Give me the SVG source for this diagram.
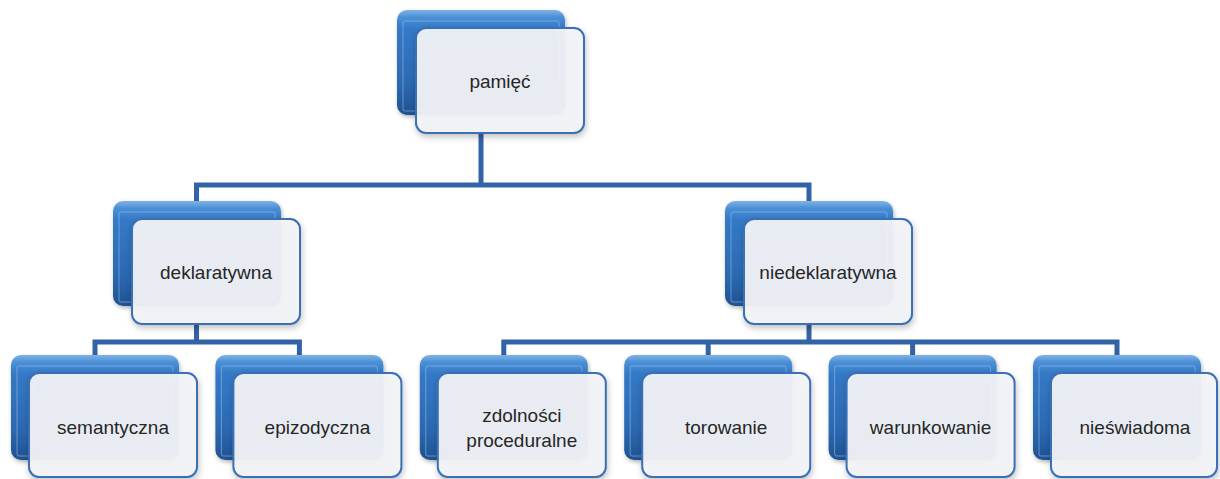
<svg xmlns="http://www.w3.org/2000/svg" width="1220" height="479" viewBox="0 0 1220 479">
<defs>
<linearGradient id="blueG" x1="0" y1="0" x2="0" y2="1">
<stop offset="0" stop-color="#7fb2e6"/>
<stop offset="0.07" stop-color="#4a8fd6"/>
<stop offset="0.18" stop-color="#3479c6"/>
<stop offset="0.7" stop-color="#2c69b2"/>
<stop offset="1" stop-color="#1f5292"/>
</linearGradient>
<filter id="sh" x="-10%" y="-10%" width="125%" height="130%">
<feDropShadow dx="1" dy="3" stdDeviation="3" flood-color="#000" flood-opacity="0.25"/>
</filter>
<filter id="sh2" x="-10%" y="-10%" width="125%" height="130%">
<feDropShadow dx="1" dy="2" stdDeviation="2" flood-color="#000" flood-opacity="0.3"/>
</filter>
</defs>
<style>
.back{fill:url(#blueG);filter:url(#sh2)}
.bevel{fill:none;stroke:#9cc3ec;stroke-opacity:0.55;stroke-width:1}
.front{fill:#f2f3f7;fill-opacity:0.94;stroke:#3b6fb6;stroke-width:2;filter:url(#sh)}
.lbl{font-family:"Liberation Sans",Arial,sans-serif;font-size:19px;fill:#262626;text-anchor:middle;dominant-baseline:central}
.conn{fill:none;stroke:#3263a6;stroke-width:5;stroke-linejoin:miter}
</style>
<g id="connectors">
<path class="conn" d="M481,133 V185"/>
<path class="conn" d="M196.5,201 V185 H809 V201"/>
<path class="conn" d="M196.5,325 V342"/>
<path class="conn" d="M95,355 V342 H299.4 V355"/>
<path class="conn" d="M809,325 V342"/>
<path class="conn" d="M503.8,355 V342 H1117 V355"/>
<path class="conn" d="M708.2,342 V355"/>
<path class="conn" d="M912.6,342 V355"/>
</g>
<g id="n-pamiec">
<rect class="back" x="397" y="10" width="168" height="105" rx="10"/>
<rect class="bevel" x="403" y="21" width="156" height="90" rx="2"/>
<rect class="front" x="416" y="28" width="168" height="105" rx="10"/>
<text class="lbl" x="500" y="81">pamięć</text>
</g>
<g id="n-deklaratywna">
<rect class="back" x="113" y="201" width="168" height="105" rx="10"/>
<rect class="bevel" x="119" y="212" width="156" height="90" rx="2"/>
<rect class="front" x="132" y="219" width="168" height="105" rx="10"/>
<text class="lbl" x="216" y="272">deklaratywna</text>
</g>
<g id="n-niedeklaratywna">
<rect class="back" x="725" y="201" width="168" height="105" rx="10"/>
<rect class="bevel" x="731" y="212" width="156" height="90" rx="2"/>
<rect class="front" x="744" y="219" width="168" height="105" rx="10"/>
<text class="lbl" x="828" y="272">niedeklaratywna</text>
</g>
<g id="n-semantyczna">
<rect class="back" x="11" y="355" width="168" height="105" rx="10"/>
<rect class="bevel" x="17" y="366" width="156" height="90" rx="2"/>
<rect class="front" x="29" y="373" width="168" height="104" rx="10"/>
<text class="lbl" x="113" y="427">semantyczna</text>
</g>
<g id="n-epizodyczna">
<rect class="back" x="215.4" y="355" width="168" height="105" rx="10"/>
<rect class="bevel" x="221.4" y="366" width="156" height="90" rx="2"/>
<rect class="front" x="233.4" y="373" width="168" height="104" rx="10"/>
<text class="lbl" x="317.4" y="427">epizodyczna</text>
</g>
<g id="n-zdolnosci">
<rect class="back" x="419.8" y="355" width="168" height="105" rx="10"/>
<rect class="bevel" x="425.8" y="366" width="156" height="90" rx="2"/>
<rect class="front" x="437.8" y="373" width="168" height="104" rx="10"/>
<text class="lbl" x="521.8" y="415">zdolności</text>
<text class="lbl" x="521.8" y="440">proceduralne</text>
</g>
<g id="n-torowanie">
<rect class="back" x="624.2" y="355" width="168" height="105" rx="10"/>
<rect class="bevel" x="630.2" y="366" width="156" height="90" rx="2"/>
<rect class="front" x="642.2" y="373" width="168" height="104" rx="10"/>
<text class="lbl" x="726.2" y="427">torowanie</text>
</g>
<g id="n-warunkowanie">
<rect class="back" x="828.6" y="355" width="168" height="105" rx="10"/>
<rect class="bevel" x="834.6" y="366" width="156" height="90" rx="2"/>
<rect class="front" x="846.6" y="373" width="168" height="104" rx="10"/>
<text class="lbl" x="930.6" y="427">warunkowanie</text>
</g>
<g id="n-nieswiadoma">
<rect class="back" x="1033" y="355" width="168" height="105" rx="10"/>
<rect class="bevel" x="1039" y="366" width="156" height="90" rx="2"/>
<rect class="front" x="1051" y="373" width="166" height="104" rx="10"/>
<text class="lbl" x="1135" y="427">nieświadoma</text>
</g>
</svg>
